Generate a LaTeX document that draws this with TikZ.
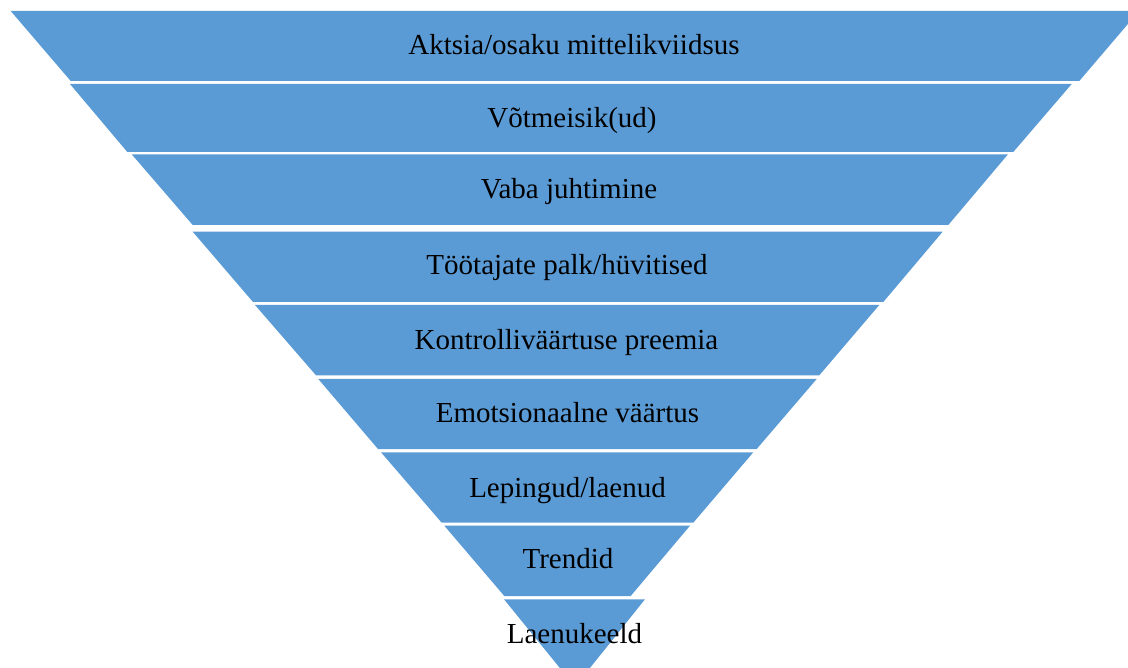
\documentclass[tikz,border=0pt]{standalone}
\usepackage{fontspec}
\setmainfont{Liberation Serif}
\definecolor{bandblue}{HTML}{5B9BD5}
\tikzset{
  band/.style={fill=bandblue, draw=none},
  lbl/.style={anchor=base, inner sep=0pt, text=black, font=\fontsize{29}{29}\selectfont}
}
\begin{document}
\begin{tikzpicture}[x=1pt,y=-1pt]
\useasboundingbox (0,0) rectangle (1128,668);
\clip (0,0) rectangle (1128,668);
\fill[band] (10.7,11) -- (1139,11) -- (1079.3,81) -- (70.7,81) -- cycle;
\fill[band] (70,84) -- (1071.7,84) -- (1013.3,152) -- (127.3,152) -- cycle;
\fill[band] (131.7,154.3) -- (1008,154.3) -- (948.3,225) -- (192.7,225) -- cycle;
\fill[band] (192.7,231.7) -- (942.7,231.7) -- (883.3,302) -- (253,302) -- cycle;
\fill[band] (255,305) -- (879.3,305) -- (819.3,375.3) -- (316,375.3) -- cycle;
\fill[band] (318.3,379) -- (816.7,379) -- (756.7,449) -- (378,449) -- cycle;
\fill[band] (381,452.3) -- (753.3,452.3) -- (693.3,522.7) -- (441.7,522.7) -- cycle;
\fill[band] (444.3,525.7) -- (690,525.7) -- (630.7,596) -- (504.3,596) -- cycle;
\fill[band] (504,599.3) -- (645,599.3) -- (575,686.6) -- cycle;
\node[lbl] (t1) at (574,55) {Aktsia/osaku mittelikviidsus};
\node[lbl] (t2) at (572,128) {Võtmeisik(ud)};
\node[lbl] (t3) at (569,199) {Vaba juhtimine};
\node[lbl] (t4) at (567,275) {Töötajate palk/hüvitised};
\node[lbl] (t5) at (566.5,350) {Kontrolliväärtuse preemia};
\node[lbl] (t6) at (567.5,422) {Emotsionaalne väärtus};
\node[lbl] (t7) at (567.5,497) {Lepingud/laenud};
\node[lbl] (t8) at (568,568) {Trendid};
\node[lbl] (t9) at (574.5,643) {Laenukeeld};
\end{tikzpicture}
\end{document}
